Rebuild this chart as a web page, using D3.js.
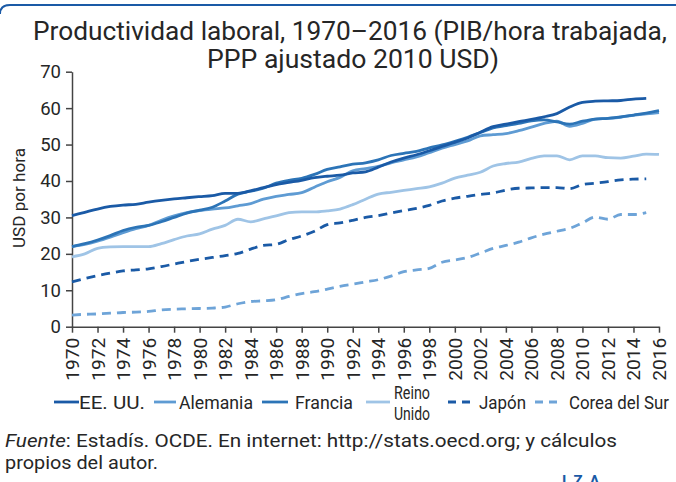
<!DOCTYPE html>
<html>
<head>
<meta charset="UTF-8">
<title>Productividad laboral</title>
<script src="https://d3js.org/d3.v7.min.js"></script>
<style>
  body { margin: 0; background: #fff; }
  svg { display: block; }
  text { font-family: Roboto, "Liberation Sans", sans-serif; fill: #262626; }
</style>
</head>
<body>
<svg width="676" height="482"></svg>
<script>
// data (USD per hour, 2010 PPP)
const years = d3.range(1970, 2017);
const usa = [30.5,31.4,32.3,33.0,33.4,33.6,34.2,34.7,35.1,35.4,35.7,36.0,36.6,36.6,37.3,38.2,39.0,39.6,40.2,40.9,41.3,41.6,42.2,42.5,43.8,45.2,46.3,47.2,48.3,49.5,50.6,51.8,53.4,54.9,55.6,56.3,56.9,57.6,58.5,60.3,61.6,61.9,62.0,62.1,62.5,62.7];
const alemania = [22.0,22.6,23.5,24.6,25.8,26.9,27.8,29.2,30.4,31.3,31.9,32.3,32.6,33.2,33.8,35.0,35.8,36.3,36.8,38.3,39.8,41.0,42.8,43.4,44.0,45.0,45.8,46.6,47.8,49.0,50.0,51.0,52.4,52.7,53.0,53.8,54.8,55.8,56.4,55.0,55.8,57.0,57.2,57.5,58.0,58.4,58.8];
const francia = [22.0,22.8,23.8,25.0,26.4,27.3,27.8,28.8,30.0,31.2,32.0,32.8,34.5,36.4,37.2,38.0,39.4,40.2,40.7,41.8,43.2,43.9,44.6,45.0,45.8,47.0,47.6,48.1,49.1,49.9,50.9,52.0,53.3,54.6,55.2,55.8,56.5,56.8,56.2,55.6,56.4,57.0,57.2,57.6,58.1,58.6,59.3];
const reinoUnido = [19.2,20.0,21.5,21.9,22.0,22.0,22.0,22.8,23.9,24.9,25.5,26.8,27.8,29.5,28.8,29.6,30.4,31.3,31.5,31.5,31.8,32.3,33.5,35.0,36.4,36.9,37.4,37.9,38.4,39.4,40.8,41.6,42.4,44.1,44.8,45.2,46.2,46.9,46.9,45.8,46.9,46.9,46.4,46.3,46.8,47.4,47.3];
const japon = [12.3,13.2,14.0,14.7,15.3,15.6,15.9,16.5,17.2,17.9,18.5,19.0,19.5,20.1,21.3,22.3,22.6,23.9,24.9,26.2,28.0,28.5,29.2,30.0,30.5,31.2,31.9,32.5,33.3,34.5,35.3,35.8,36.3,36.7,37.5,38.0,38.1,38.2,38.2,37.9,39.0,39.4,39.8,40.3,40.5,40.6];
const corea = [3.2,3.4,3.5,3.7,3.9,4.0,4.2,4.6,4.8,4.9,5.0,5.1,5.4,6.3,6.9,7.1,7.4,8.3,9.1,9.6,10.3,11.1,11.7,12.3,12.9,13.9,15.1,15.6,16.0,17.7,18.3,19.0,20.2,21.5,22.3,23.2,24.4,25.4,26.2,27.0,28.5,30.1,29.5,30.8,30.8,31.3];

const seriesNames = ["EE. UU.", "Alemania", "Francia", "Reino Unido", "Japón", "Corea del Sur"];
const seriesValues = [usa, alemania, francia, reinoUnido, japon, corea];
const yTicks = [0, 10, 20, 30, 40, 50, 60, 70];
const xTicks = d3.range(1970, 2017, 2);

const colors = ["#1a5aa6", "#5e9bd3", "#2c74b7", "#9fc4e6", "#1a5aa6", "#6ea4d8"];
const dashes = [null, null, null, null, "9,6", "9,6"];

const svg = d3.select("svg");

// top rule
svg.append("path")
  .attr("d", "M0,14 Q0,5 10,5 L676,5")
  .attr("fill", "none").attr("stroke", "#1a5aa6").attr("stroke-width", 2);

// title
svg.append("text").attr("x", 350).attr("y", 40).attr("text-anchor", "middle")
  .attr("font-size", 26).attr("textLength", 634).attr("lengthAdjust", "spacingAndGlyphs")
  .text("Productividad laboral, 1970–2016 (PIB/hora trabajada,");
svg.append("text").attr("x", 353).attr("y", 68).attr("text-anchor", "middle")
  .attr("font-size", 26).attr("textLength", 292).attr("lengthAdjust", "spacingAndGlyphs")
  .text("PPP ajustado 2010 USD)");

const x = d3.scaleLinear().domain([1970, 2016]).range([72, 659]);
const y = d3.scaleLinear().domain([0, 70]).range([326.7, 71.7]);

// y axis
const gy = svg.append("g").attr("transform", "translate(72,0)")
  .call(d3.axisLeft(y).tickValues(yTicks).tickSize(6).tickSizeOuter(0).tickPadding(5));
gy.select(".domain").attr("stroke", "#444").attr("stroke-width", 1.5);
gy.selectAll(".tick line").attr("stroke", "#444").attr("stroke-width", 1.5);
gy.selectAll(".tick text").attr("font-size", 18.5).attr("fill", "#262626")
  .style("font-family", "Roboto, sans-serif");

// x axis
const gx = svg.append("g").attr("transform", "translate(0,326.7)")
  .call(d3.axisBottom(x).tickValues(xTicks).tickFormat(d3.format("d")).tickSize(6).tickSizeOuter(0));
gx.select(".domain").attr("stroke", "#444").attr("stroke-width", 1.5);
gx.selectAll(".tick line").attr("stroke", "#444").attr("stroke-width", 1.5);
gx.selectAll(".tick text")
  .attr("font-size", 18).attr("fill", "#262626")
  .style("font-family", "Roboto, sans-serif")
  .attr("text-anchor", "end").attr("dy", "0.36em")
  .attr("transform", "translate(0,6) rotate(-90)").attr("x", -5).attr("y", 0)
  .attr("textLength", 43).attr("lengthAdjust", "spacingAndGlyphs");

// y axis title
svg.append("text").attr("transform", "translate(25,198) rotate(-90)")
  .attr("text-anchor", "middle").attr("font-size", 17)
  .attr("textLength", 100).attr("lengthAdjust", "spacingAndGlyphs")
  .text("USD por hora");

// lines
const line = d3.line()
  .x(d => x(d[0])).y(d => y(d[1]))
  .curve(d3.curveMonotoneX);

// lighter series first so the darker ones sit on top
const order = [3, 5, 4, 1, 2, 0];
order.forEach(i => {
  const pts = seriesValues[i].map((v, j) => [years[j], v]);
  svg.append("path")
    .attr("d", line(pts))
    .attr("fill", "none")
    .attr("stroke", colors[i])
    .attr("stroke-width", 2.8)
    .attr("stroke-dasharray", dashes[i])
    .attr("stroke-linejoin", "round");
});

// legend
const legendY = 402;
const legendItems = [
  { lx: 54, lw: 25, tx: 79, tw: 66 },
  { lx: 154, lw: 22, tx: 179, tw: 74 },
  { lx: 262, lw: 26, tx: 295, tw: 58 },
  { lx: 366, lw: 24, tx: 394, tw: 36 },
  { lx: 448, lw: 25, tx: 479, tw: 47 },
  { lx: 535, lw: 28, tx: 569, tw: 100 }
];
legendItems.forEach((it, i) => {
  svg.append("line")
    .attr("x1", it.lx).attr("x2", it.lx + it.lw)
    .attr("y1", legendY).attr("y2", legendY)
    .attr("stroke", colors[i]).attr("stroke-width", 2.8)
    .attr("stroke-dasharray", dashes[i] ? "8,6" : null);
  if (seriesNames[i] === "Reino Unido") {
    svg.append("text").attr("x", it.tx).attr("y", legendY - 3).attr("font-size", 17.5)
      .attr("textLength", it.tw).attr("lengthAdjust", "spacingAndGlyphs").text("Reino");
    svg.append("text").attr("x", it.tx).attr("y", legendY + 18).attr("font-size", 17.5)
      .attr("textLength", it.tw).attr("lengthAdjust", "spacingAndGlyphs").text("Unido");
  } else {
    svg.append("text").attr("x", it.tx).attr("y", legendY + 7).attr("font-size", 17.5)
      .attr("textLength", it.tw).attr("lengthAdjust", "spacingAndGlyphs").text(seriesNames[i]);
  }
});

// source note
const src = svg.append("text").attr("x", 5).attr("y", 447).attr("font-size", 18.5)
  .attr("textLength", 612).attr("lengthAdjust", "spacingAndGlyphs");
src.append("tspan").attr("font-style", "italic").text("Fuente");
src.append("tspan").text(": Estadís. OCDE. En internet: http://stats.oecd.org; y cálculos");
svg.append("text").attr("x", 5).attr("y", 469).attr("font-size", 18.5)
  .attr("textLength", 153).attr("lengthAdjust", "spacingAndGlyphs")
  .text("propios del autor.");

// logo, partly below the edge as in the original
svg.append("text").attr("x", 562).attr("y", 486).attr("font-size", 15)
  .attr("font-weight", "bold").attr("letter-spacing", 7)
  .style("fill", "#1a5aa6").text("IZA");
</script>
</body>
</html>
